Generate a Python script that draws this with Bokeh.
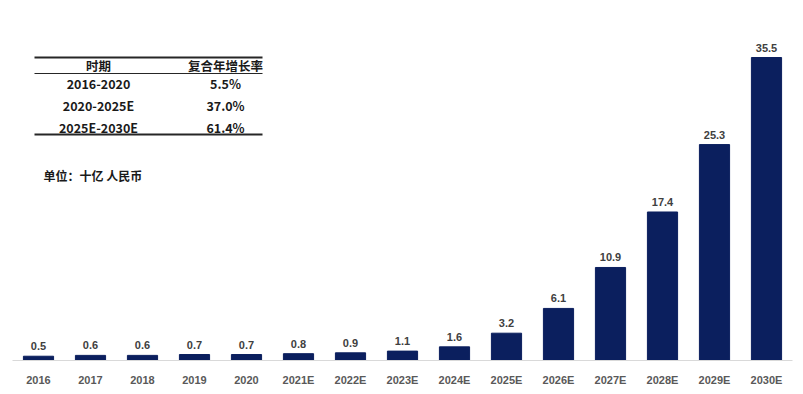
from bokeh.plotting import figure
from bokeh.models import ColumnDataSource, LabelSet, Label, BoxAnnotation, Range1d
from bokeh.core.properties import value
from bokeh.embed import file_html
from bokeh.resources import INLINE

years = ["2016", "2017", "2018", "2019", "2020", "2021E", "2022E", "2023E", "2024E",
         "2025E", "2026E", "2027E", "2028E", "2029E", "2030E"]
values = [0.5, 0.6, 0.6, 0.7, 0.7, 0.8, 0.9, 1.1, 1.6, 3.2, 6.1, 10.9, 17.4, 25.3, 35.5]
value_text = ["%.1f" % v for v in values]

table_header = ["时期", "复合年增长率"]
table_periods = ["2016-2020", "2020-2025E", "2025E-2030E"]
table_cagr = ["5.5%", "37.0%", "61.4%"]
unit_text = "单位：十亿 人民币"

BAR = "#0b1f5e"
LBL = "#404040"
AX = "#595959"
CJK = "Noto Sans CJK SC"

src = ColumnDataSource(dict(x=years, top=values, txt=value_text))

p = figure(x_range=years, frame_width=780, frame_height=360, output_backend="svg",
           toolbar_location=None, min_border_left=12, min_border_right=8,
           min_border_top=0, min_border_bottom=0)
p.y_range = Range1d(0, 42.18)
p.x_range.range_padding = 0

p.vbar(x="x", top="top", width=0.58, source=src, color=BAR)

p.add_layout(LabelSet(x="x", y="top", text="txt", source=src, text_align="center",
                      text_baseline="alphabetic", y_offset=6,
                      text_font=value("Liberation Sans"),
                      text_font_style="bold", text_font_size="11px", text_color=LBL))

p.yaxis.visible = False
p.grid.visible = False
p.outline_line_color = None
xa = p.xaxis[0]
xa.axis_line_color = "#d9d9d9"
xa.axis_line_width = 1
xa.major_tick_line_color = None
xa.minor_tick_line_color = None
xa.major_label_text_font = "Liberation Sans"
xa.major_label_text_font_style = "bold"
xa.major_label_text_font_size = "11px"
xa.major_label_text_color = AX
xa.major_label_standoff = 7

# table lines (screen units relative to frame)
def hline(y, thick):
    p.add_layout(BoxAnnotation(left=22, right=250, bottom=y - thick / 2, top=y + thick / 2,
                               left_units="screen", right_units="screen",
                               top_units="screen", bottom_units="screen",
                               fill_color="#262626", fill_alpha=1, line_color=None))

hline(303, 2)
hline(287, 1)
hline(226, 2)

col_x = [86, 213]
for cx, h in zip(col_x, table_header):
    p.add_layout(Label(x=cx, y=295, x_units="screen", y_units="screen", text=h,
                       text_align="center", text_baseline="middle", text_font=CJK,
                       text_font_style="bold", text_font_size="12.5px", text_color="#1a1a1a"))

row_y = [277, 255, 233]
for ry, a, b in zip(row_y, table_periods, table_cagr):
    p.add_layout(Label(x=col_x[0], y=ry, x_units="screen", y_units="screen", text=a,
                       text_align="center", text_baseline="middle", text_font=CJK,
                       text_font_style="bold", text_font_size="12.5px", text_color="#1a1a1a"))
    p.add_layout(Label(x=col_x[1], y=ry, x_units="screen", y_units="screen", text=b,
                       text_align="center", text_baseline="middle", text_font=CJK,
                       text_font_style="bold", text_font_size="12.5px", text_color="#1a1a1a"))

p.add_layout(Label(x=31, y=185, x_units="screen", y_units="screen", text=unit_text,
                   text_align="left", text_baseline="middle", text_font=CJK,
                   text_font_style="bold", text_font_size="12px", text_color="#1a1a1a"))

open("out.html", "w").write(file_html(p, INLINE))
